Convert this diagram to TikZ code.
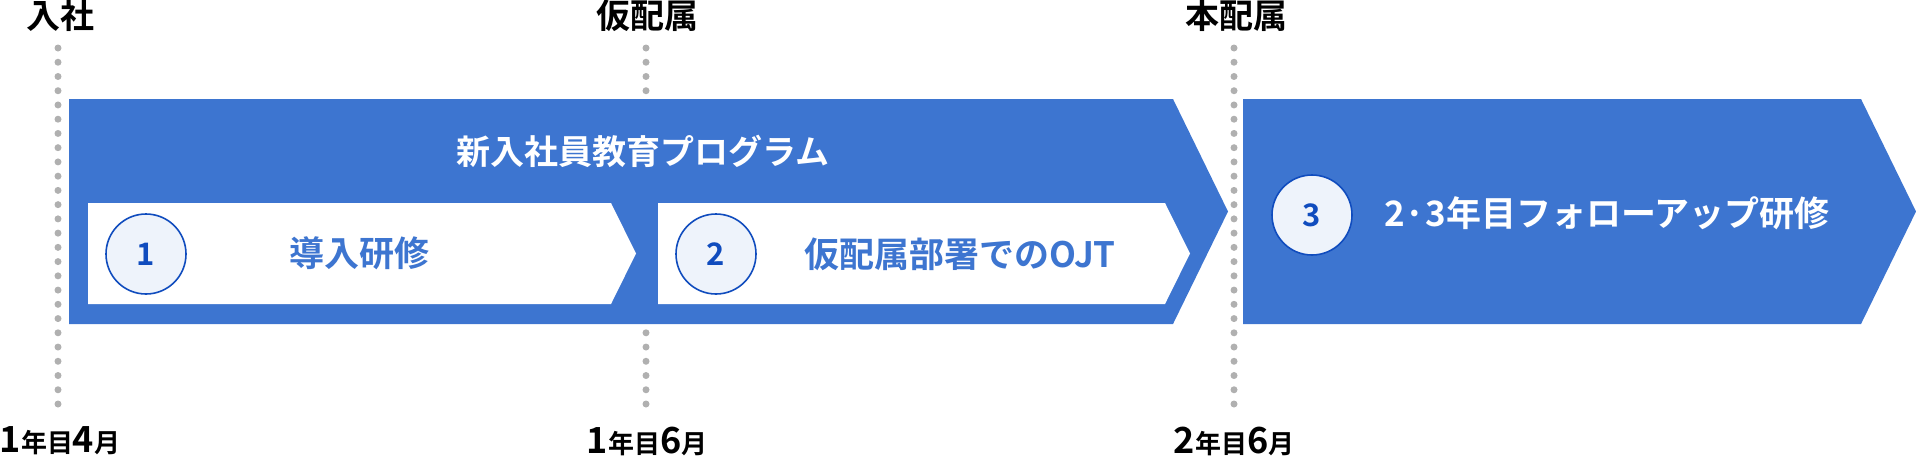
\documentclass[tikz,border=0pt]{standalone}
\usepackage{fontspec}
\setmainfont{Noto Sans CJK JP}[BoldFont={Noto Sans CJK JP Bold}]
\usepackage{tikz}
\usetikzlibrary{calc}
\definecolor{progblue}{RGB}{61,117,208}
\definecolor{numblue}{RGB}{16,76,190}
\definecolor{numfill}{RGB}{238,243,251}
\definecolor{dotgray}{RGB}{176,176,176}
\tikzstyle{milestone}=[font=\bfseries\fontsize{34}{34}\selectfont, inner sep=0pt]
\tikzstyle{period}=[font=\bfseries\fontsize{36}{36}\selectfont, inner sep=0pt]
\tikzstyle{timedots}=[draw=dotgray, line width=7pt, line cap=round, dash pattern=on 0pt off 14.24pt]
\tikzstyle{band}=[fill=progblue]
\tikzstyle{stage}=[fill=white]
\tikzstyle{stagetext}=[font=\bfseries\fontsize{35}{35}\selectfont, text=progblue, inner sep=0pt]
\tikzstyle{stepnum}=[circle, draw=numblue, line width=1.6pt, fill=numfill, minimum size=80pt, inner sep=0pt, text=numblue, font=\bfseries\fontsize{31}{31}\selectfont]
\newcommand{\ym}[2]{#1{\fontsize{26}{26}\selectfont 年目}#2{\fontsize{26}{26}\selectfont 月}}

\begin{document}
\begin{tikzpicture}[x=1pt,y=-1pt]
      \useasboundingbox (0,0) rectangle (1916,456);
      % milestones
      \node [milestone] (join) at (60,16) {入社};
      \node [milestone] (temp) at (647,16) {仮配属};
      \node [milestone] (final) at (1236,16) {本配属};
      \node [period] (m1) at (60,441) {\ym{1}{4}};
      \node [period] (m2) at (647,441) {\ym{1}{6}};
      \node [period] (m3) at (1234,441) {\ym{2}{6}};
      \foreach \x [count=\i] in {58,646,1234} {
        \coordinate (top\i) at (\x,48);
        \coordinate (bot\i) at (\x,404);
        \draw [timedots] (top\i) -- (bot\i);
      }
      % program bands
      \fill [band] (69,99) -- (1173,99) -- (1228,211.5) -- (1173,324) -- (69,324) -- cycle;
      \fill [band] (1243,99) -- (1861,99) -- (1916,211.5) -- (1861,324) -- (1243,324) -- cycle;
      \fill [stage] (88,203) -- (611,203) -- (636,253.5) -- (611,304) -- (88,304) -- cycle;
      \fill [stage] (658,203) -- (1165,203) -- (1190,253.5) -- (1165,304) -- (658,304) -- cycle;
      \node [milestone, text=white] (prog) at (643,151) {新入社員教育プログラム};
      \node [stepnum] (s1) at (146,254) {1};
      \node [stagetext] (t1) at (359,253) {導入研修};
      \node [stepnum] (s2) at (716,254) {2};
      \node [stagetext] (t2) at (960,254) {仮配属部署でのOJT};
      \node [stepnum] (s3) at (1312,215) {3};
      \node [stagetext, text=white] (t3) at (1607,213) {2·3年目フォローアップ研修};
\end{tikzpicture}
\end{document}
